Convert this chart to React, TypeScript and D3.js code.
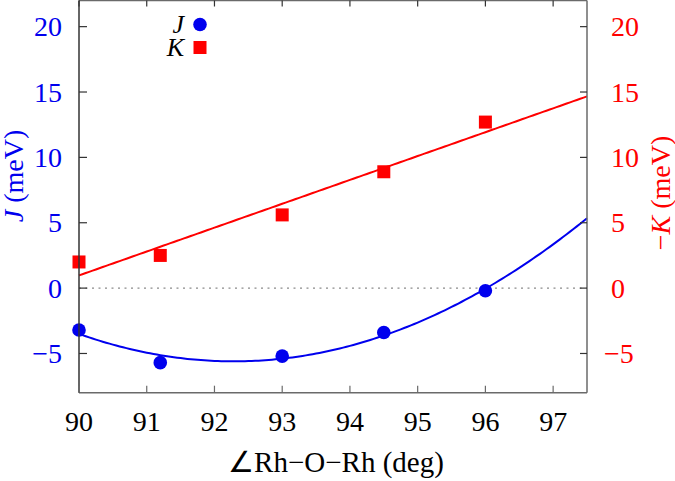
import React from "react";
import * as d3 from "d3";

const angles = [90, 91.2, 93, 94.5, 96];
const jValues = [-3.2, -5.7, -5.2, -3.4, -0.2];
const minusK = [2.0, 2.5, 5.6, 8.9, 12.7];
const xTicks = [90, 91, 92, 93, 94, 95, 96, 97];
const yTicks = [-5, 0, 5, 10, 15, 20];

const W = 675;
const H = 481;
const M = { left: 79, right: 587, top: 0.5, bottom: 392.7 };
const FONT = '"Liberation Serif"';

function linFit(xs: number[], ys: number[]) {
  const mx = d3.mean(xs)!;
  const my = d3.mean(ys)!;
  let sxx = 0, sxy = 0;
  xs.forEach((x, i) => {
    sxx += (x - mx) * (x - mx);
    sxy += (x - mx) * (ys[i] - my);
  });
  const b = sxy / sxx;
  const a = my - b * mx;
  return (x: number) => a + b * x;
}

function quadFit(xs: number[], ys: number[]) {
  const x0 = 90;
  const t = xs.map((x) => x - x0);
  const S = (p: number) => d3.sum(t, (v) => Math.pow(v, p));
  const T = (p: number) => d3.sum(t, (v, i) => Math.pow(v, p) * ys[i]);
  const A = [
    [S(0), S(1), S(2)],
    [S(1), S(2), S(3)],
    [S(2), S(3), S(4)],
  ];
  const B = [T(0), T(1), T(2)];
  const n = 3;
  const M2 = A.map((r, i) => [...r, B[i]]);
  for (let i = 0; i < n; i++) {
    for (let k = i + 1; k < n; k++) {
      const f = M2[k][i] / M2[i][i];
      for (let j = i; j <= n; j++) M2[k][j] -= f * M2[i][j];
    }
  }
  const c = [0, 0, 0];
  for (let i = n - 1; i >= 0; i--) {
    let s = M2[i][n];
    for (let j = i + 1; j < n; j++) s -= M2[i][j] * c[j];
    c[i] = s / M2[i][i];
  }
  return (x: number) => c[0] + c[1] * (x - x0) + c[2] * (x - x0) * (x - x0);
}

const fmt = (t: number) => (t < 0 ? "\u2212" + Math.abs(t) : String(t));

export default function App() {
  const x = d3.scaleLinear().domain([90, 97.5]).range([M.left, M.right]);
  const y = d3.scaleLinear().domain([-8, 22]).range([M.bottom, M.top]);

  const kLine = linFit(angles, minusK);
  const jCurve = quadFit(angles, jValues);
  const grid = d3.range(0, 151).map((i) => 90 + (7.5 * i) / 150);
  const line = d3
    .line<[number, number]>()
    .x((d) => x(d[0]))
    .y((d) => y(d[1]));
  const kPath = line(grid.map((g) => [g, kLine(g)]))!;
  const jPath = line(grid.map((g) => [g, jCurve(g)]))!;

  const frame = "#6a6a6a";
  const ts: React.CSSProperties = { fontFamily: FONT };
  const fs = 28;

  return (
    <svg
      width={W}
      height={H}
      style={{ position: "absolute", left: 0, top: 0, background: "#fff", fontFamily: FONT }}
    >
      <line
        x1={x(90)}
        x2={x(97.5)}
        y1={y(0)}
        y2={y(0)}
        stroke="#8a8a8a"
        strokeWidth={1.2}
        strokeDasharray="2,4.5"
      />
      <path d={kPath} fill="none" stroke="#ff0000" strokeWidth={2} />
      <path d={jPath} fill="none" stroke="#0000ee" strokeWidth={2} />

      {angles.map((a, i) => (
        <rect
          key={"k" + i}
          x={x(a) - 6.5}
          y={y(minusK[i]) - 6.5}
          width={13}
          height={13}
          fill="#ff0000"
        />
      ))}
      {angles.map((a, i) => (
        <circle key={"j" + i} cx={x(a)} cy={y(jValues[i])} r={6.8} fill="#0000ee" />
      ))}

      <line x1={M.left} x2={M.right} y1={M.top} y2={M.top} stroke={frame} strokeWidth={1.5} />
      <line x1={M.left} x2={M.right} y1={M.bottom} y2={M.bottom} stroke={frame} strokeWidth={1.5} />
      <line x1={M.right} x2={M.right} y1={M.top} y2={M.bottom} stroke={frame} strokeWidth={1.5} />
      <line x1={M.left} x2={M.left} y1={M.top} y2={M.bottom} stroke="#333" strokeWidth={1.5} />

      {xTicks.map((t) => (
        <g key={"xt" + t}>
          <line x1={x(t)} x2={x(t)} y1={M.bottom} y2={M.bottom - 7} stroke={frame} strokeWidth={1.2} />
          <line x1={x(t)} x2={x(t)} y1={M.top} y2={M.top + 6} stroke="#333" strokeWidth={1.2} />
          <text x={x(t)} y={431} textAnchor="middle" fontSize={fs} fill="#000" style={ts}>
            {t}
          </text>
        </g>
      ))}

      {yTicks.map((t) => (
        <g key={"yt" + t}>
          <line x1={M.left} x2={M.left + 8} y1={y(t)} y2={y(t)} stroke="#333" strokeWidth={1.2} />
          <line x1={M.right} x2={M.right - 7} y1={y(t)} y2={y(t)} stroke="#333" strokeWidth={1.2} />
          <text x={62} y={y(t)} dy="0.34em" textAnchor="end" fontSize={fs} fill="#0000ee" style={ts}>
            {fmt(t)}
          </text>
          <text
            x={t < 0 ? 604 : 611}
            y={y(t)}
            dy="0.34em"
            textAnchor="start"
            fontSize={fs}
            fill="#ff0000"
            style={ts}
          >
            {fmt(t)}
          </text>
        </g>
      ))}

      <text x={336} y={472} textAnchor="middle" fontSize={29} fill="#000" style={ts}>
        ∠Rh−O−Rh (deg)
      </text>
      <text
        transform="translate(23,176) rotate(-90)"
        textAnchor="middle"
        fontSize={fs}
        fill="#0000ee"
        style={ts}
      >
        <tspan fontStyle="italic">J</tspan>
        <tspan> (meV)</tspan>
      </text>
      <text
        transform="translate(670,193) rotate(-90)"
        textAnchor="middle"
        fontSize={fs}
        fill="#ff0000"
        style={ts}
      >
        <tspan>−</tspan>
        <tspan fontStyle="italic">K</tspan>
        <tspan> (meV)</tspan>
      </text>

      <text x={184} y={33} textAnchor="end" fontSize={26} fontStyle="italic" fill="#000" style={ts}>
        J
      </text>
      <circle cx={200} cy={24.5} r={6.8} fill="#0000ee" />
      <text x={184} y={56} textAnchor="end" fontSize={26} fontStyle="italic" fill="#000" style={ts}>
        K
      </text>
      <rect x={193.5} y={41} width={13} height={13} fill="#ff0000" />
    </svg>
  );
}
